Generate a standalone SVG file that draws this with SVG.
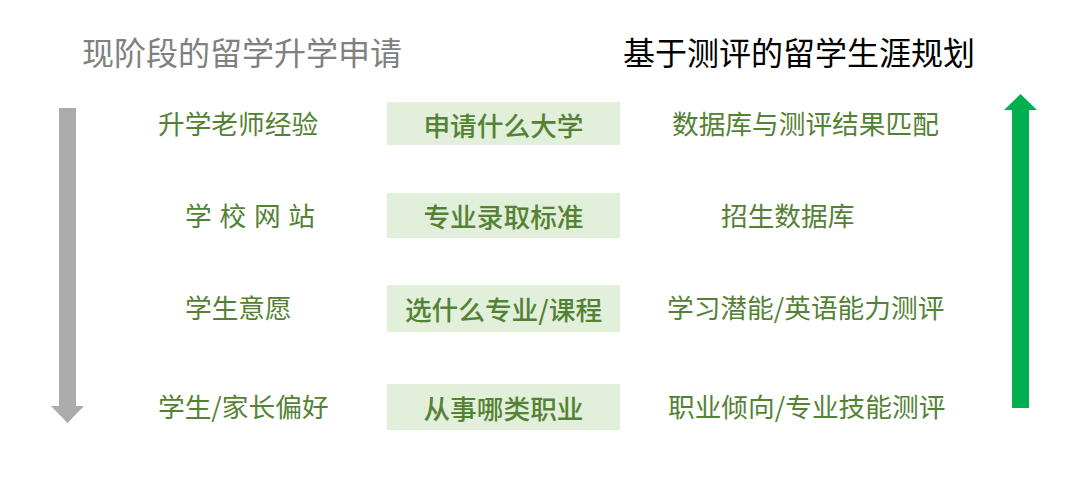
<svg xmlns="http://www.w3.org/2000/svg" width="1080" height="488" viewBox="0 0 1080 488">
<style>
text{font-family:"Microsoft YaHei","Noto Sans CJK SC","Noto Sans",sans-serif;dominant-baseline:central}
.title{font-size:32px}
.lbl{font-size:26.7px;fill:#548235}
.box{fill:#E2EFDA}
.bt{font-size:26.7px;fill:#548235;font-weight:500;text-anchor:middle}
</style>
<rect width="1080" height="488" fill="#ffffff"/>
<g id="titles">
<text class="title" x="82" y="51" fill="#808080">现阶段的留学升学申请</text>
<text class="title" x="623" y="51" fill="#000000">基于测评的留学生涯规划</text>
</g>
<g id="connectors">
<polygon points="59,108 76,108 76,406 84,406 67.5,423 51,406 59,406" fill="#ABABAB"/>
<polygon points="1012,408 1029,408 1029,110 1037,110 1020.5,94 1004,110 1012,110" fill="#00B050"/>
</g>
<g id="row1">
<text class="lbl" x="158" y="122">升学老师经验</text>
<g id="box1"><rect class="box" x="387" y="102" width="233" height="43"/><text class="bt" x="503.5" y="124">申请什么大学</text></g>
<text class="lbl" x="672" y="122">数据库与测评结果匹配</text>
</g>
<g id="row2">
<text class="lbl" x="185" y="214" textLength="130" lengthAdjust="spacing" xml:space="preserve">学 校 网 站</text>
<g id="box2"><rect class="box" x="387" y="193" width="233" height="45"/><text class="bt" x="503.5" y="215.5">专业录取标准</text></g>
<text class="lbl" x="721" y="214">招生数据库</text>
</g>
<g id="row3">
<text class="lbl" x="185" y="306">学生意愿</text>
<g id="box3"><rect class="box" x="387" y="285" width="233" height="47"/><text class="bt" x="503.5" y="308.5">选什么专业/课程</text></g>
<text class="lbl" x="667" y="306">学习潜能/英语能力测评</text>
</g>
<g id="row4">
<text class="lbl" x="158" y="405">学生/家长偏好</text>
<g id="box4"><rect class="box" x="387" y="384" width="233" height="46"/><text class="bt" x="503.5" y="407">从事哪类职业</text></g>
<text class="lbl" x="668" y="405">职业倾向/专业技能测评</text>
</g>
</svg>
